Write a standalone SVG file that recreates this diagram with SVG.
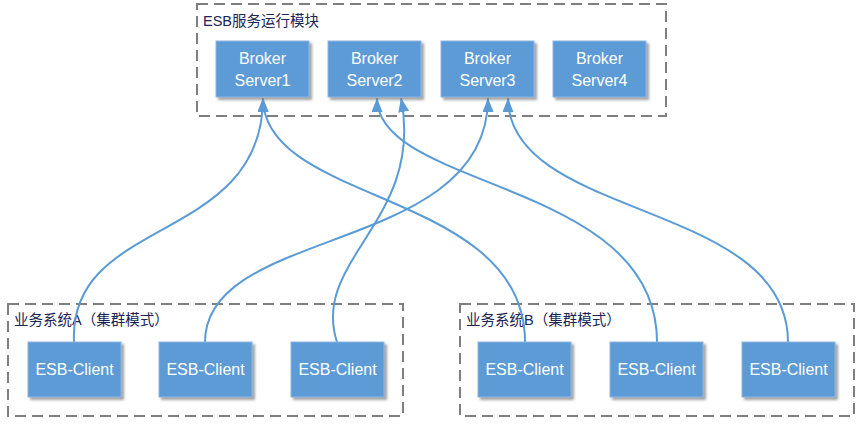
<svg xmlns="http://www.w3.org/2000/svg" width="862" height="425" viewBox="0 0 862 425">
<defs>
<style>
.cont{fill:none;stroke:#7f7f7f;stroke-width:2;stroke-dasharray:11 6}
.ctitle{font-family:"Liberation Sans","Noto Sans CJK SC",sans-serif;font-size:14.5px;fill:#1a2456}
.box{fill:#5b9bd5;stroke:#8fb6e0;stroke-width:1;filter:url(#sh)}
.lbl{font-family:"Liberation Sans","Noto Sans CJK SC",sans-serif;font-size:16px;fill:#ffffff;text-anchor:middle}
.conn{fill:none;stroke:#5b9bd5;stroke-width:2;marker-end:url(#arr)}
</style>
<filter id="sh" x="-10%" y="-10%" width="130%" height="140%">
<feDropShadow dx="2.5" dy="2.5" stdDeviation="1" flood-color="#7a7a7a" flood-opacity="0.7"/>
</filter>
<marker id="arr" markerUnits="userSpaceOnUse" markerWidth="14" markerHeight="12" refX="14" refY="5.5" orient="auto">
<path d="M0,0 L14,5.5 L0,11 z" fill="#5b9bd5"/>
</marker>
</defs>
<rect width="862" height="425" fill="#ffffff"/>

<g id="esb-module">
<rect class="cont" x="197" y="4" width="469" height="112"/>
<text class="ctitle" x="203" y="26">ESB服务运行模块</text>
</g>
<g id="system-a">
<rect class="cont" x="8" y="304" width="395" height="112"/>
<text class="ctitle" x="14" y="325">业务系统A（集群模式）</text>
</g>
<g id="system-b">
<rect class="cont" x="460" y="304" width="394" height="112"/>
<text class="ctitle" x="466" y="325">业务系统B（集群模式）</text>
</g>

<g id="connectors">
<path class="conn" d="M74,342 C68,215 263,245 263,98"/>
<path class="conn" d="M525,342 C525,190 263,205 263,98"/>
<path class="conn" d="M205,342 C205,225 488,255 488,98"/>
<path class="conn" d="M337,342 C310,260 425,220 401,98"/>
<path class="conn" d="M657,342 C657,180 377,190 377,98"/>
<path class="conn" d="M788,342 C788,200 508,220 508,98"/>
</g>

<g id="broker1"><rect class="box" x="216" y="41" width="93" height="56"/><text class="lbl" x="262.5" y="63.5">Broker</text><text class="lbl" x="262.5" y="85.5">Server1</text></g>
<g id="broker2"><rect class="box" x="328" y="41" width="93" height="56"/><text class="lbl" x="374.5" y="63.5">Broker</text><text class="lbl" x="374.5" y="85.5">Server2</text></g>
<g id="broker3"><rect class="box" x="441" y="41" width="93" height="56"/><text class="lbl" x="487.5" y="63.5">Broker</text><text class="lbl" x="487.5" y="85.5">Server3</text></g>
<g id="broker4"><rect class="box" x="553" y="41" width="93" height="56"/><text class="lbl" x="599.5" y="63.5">Broker</text><text class="lbl" x="599.5" y="85.5">Server4</text></g>

<g id="clientA1"><rect class="box" x="28" y="342" width="93" height="55"/><text class="lbl" x="74.5" y="375">ESB-Client</text></g>
<g id="clientA2"><rect class="box" x="159" y="342" width="93" height="55"/><text class="lbl" x="205.5" y="375">ESB-Client</text></g>
<g id="clientA3"><rect class="box" x="291" y="342" width="93" height="55"/><text class="lbl" x="337.5" y="375">ESB-Client</text></g>
<g id="clientB1"><rect class="box" x="478" y="342" width="93" height="55"/><text class="lbl" x="524.5" y="375">ESB-Client</text></g>
<g id="clientB2"><rect class="box" x="610" y="342" width="93" height="55"/><text class="lbl" x="656.5" y="375">ESB-Client</text></g>
<g id="clientB3"><rect class="box" x="742" y="342" width="93" height="55"/><text class="lbl" x="788.5" y="375">ESB-Client</text></g>
</svg>
